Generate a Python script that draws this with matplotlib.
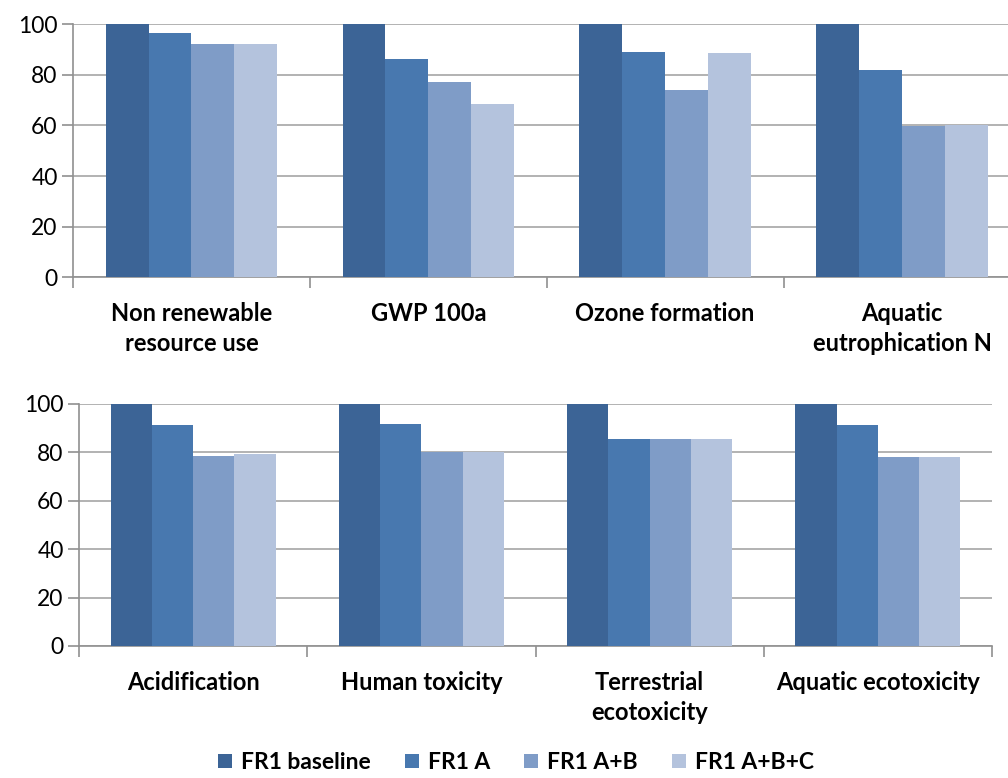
import numpy as np
import matplotlib.pyplot as plt

plt.rcParams['font.family'] = ['Lato', 'DejaVu Sans']

series = ['FR1 baseline', 'FR1 A', 'FR1 A+B', 'FR1 A+B+C']
colors = ['#3c6496', '#4878af', '#7f9cc7', '#b4c3dd']

top_cats = ['Non renewable\nresource use', 'GWP 100a', 'Ozone formation', 'Aquatic\neutrophication N']
top_vals = [
    [100, 100, 100, 100],    # FR1 baseline
    [96.6, 86.4, 88.9, 81.8],  # FR1 A
    [92.1, 77.3, 74.2, 59.9],  # FR1 A+B
    [92.1, 68.6, 88.5, 60.0],  # FR1 A+B+C
]

bot_cats = ['Acidification', 'Human toxicity', 'Terrestrial\necotoxicity', 'Aquatic ecotoxicity']
bot_vals = [
    [100, 100, 100, 100],
    [91.1, 91.6, 85.3, 91.1],
    [78.3, 80.0, 85.3, 77.9],
    [79.2, 80.0, 85.3, 77.9],
]

fig = plt.figure(figsize=(10.08, 7.78), dpi=100)
ax1 = fig.add_axes([0.0724, 0.6436, 0.940, 0.3252])
ax2 = fig.add_axes([0.0784, 0.1697, 0.9057, 0.3114])

def draw(ax, cats, vals):
    x = np.arange(len(cats))
    w = 0.181
    for i, (s, v) in enumerate(zip(series, vals)):
        ax.bar(x + (i - 1.5) * w, v, w, color=colors[i], label=s, zorder=3)
    ax.set_xlim(-0.5, len(cats) - 0.5)
    ax.set_ylim(0, 100)
    ax.set_yticks([0, 20, 40, 60, 80, 100])
    ax.yaxis.grid(True, color='#a6a6a6', linewidth=1.2, zorder=0)
    ax.set_xticks(x)
    ax.set_xticklabels(cats, fontsize=17, fontweight='bold', linespacing=1.38)
    ax.set_xticks(np.arange(len(cats) + 1) - 0.5, minor=True)
    ax.tick_params(axis='x', which='major', length=0, pad=18)
    ax.tick_params(axis='x', which='minor', length=8, color='#909090', width=1.2)
    ax.tick_params(axis='y', length=8, color='#909090', width=1.2, labelsize=16.5, pad=3)
    for sp in ['top', 'right']:
        ax.spines[sp].set_visible(False)
    for sp in ['left', 'bottom']:
        ax.spines[sp].set_color('#909090')
        ax.spines[sp].set_linewidth(1.2)

draw(ax1, top_cats, top_vals)
draw(ax2, bot_cats, bot_vals)

handles, labels = ax1.get_legend_handles_labels()
fig.legend(handles, labels, loc='center', bbox_to_anchor=(0.512, 0.02), ncol=4,
           frameon=False, prop={'size': 16.5, 'weight': 'bold'},
           handlelength=0.6, handleheight=0.6, handletextpad=0.4, columnspacing=1.5,
           borderpad=0.1)

fig.savefig('out.png', dpi=100)
